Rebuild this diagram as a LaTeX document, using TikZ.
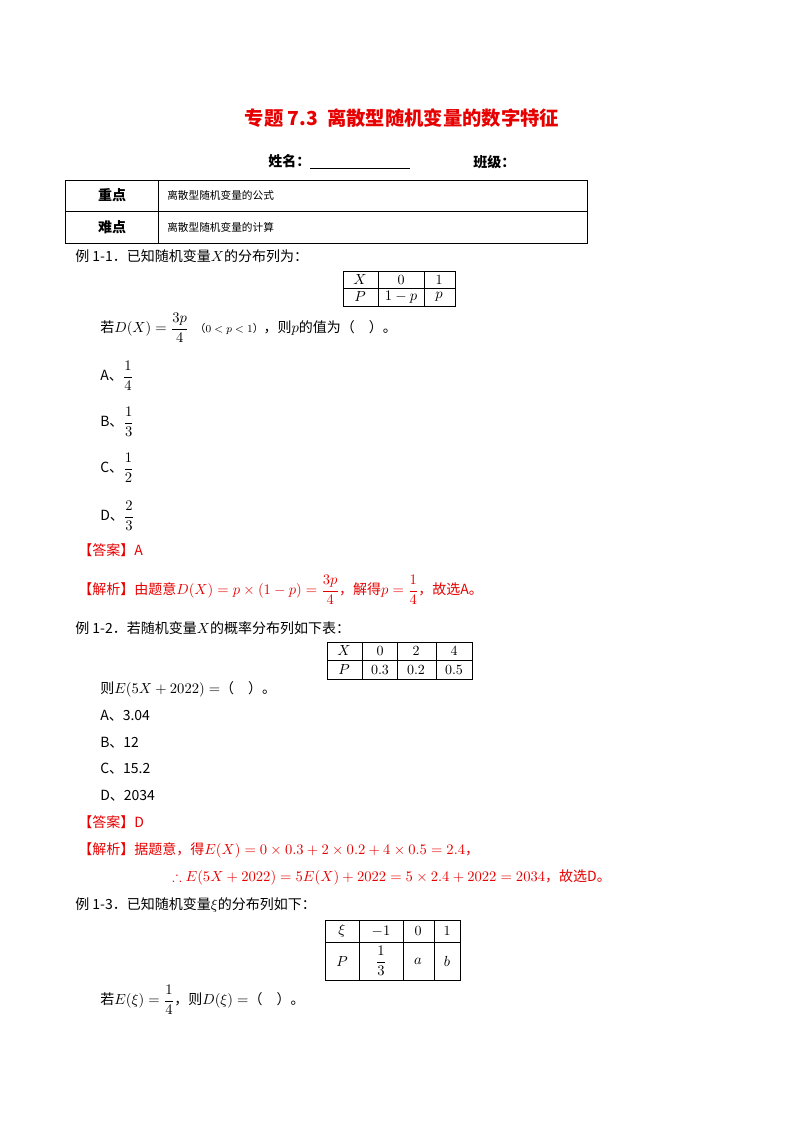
\documentclass[tikz,border=0pt]{standalone}
\usepackage{amsmath,amssymb}
\usepackage{fontspec}
\newfontfamily\cjk{Noto Sans CJK SC}
\definecolor{myred}{RGB}{230,0,0}
\tikzset{
 t/.style={anchor=west,inner sep=0pt,font=\cjk\fontsize{10.5}{12}\selectfont},
 rt/.style={t,text=myred},
 c/.style={inner sep=0pt,font=\fontsize{10.5}{12}\selectfont},
 ln/.style={line width=0.6pt}
}
\begin{document}
\begin{tikzpicture}[x=0.75pt,y=-0.75pt]
\useasboundingbox (0,0) rectangle (800,1132);
\node[inner sep=0pt,text=myred,font=\cjk\bfseries\fontsize{14.5}{18}\selectfont] (title) at (402,118) {专题 7.3\ \ 离散型随机变量的数字特征};
\node[t,font=\cjk\bfseries\fontsize{10.5}{12}\selectfont] (name) at (268,162) {姓名：\underline{\hspace{75pt}}};
\node[t,font=\cjk\bfseries\fontsize{10.5}{12}\selectfont] (cls) at (473,162) {班级：};
% table 1
\draw[ln] (65,180) rectangle (587,243);
\draw[ln] (65,211) -- (587,211);
\draw[ln] (158,180) -- (158,243);
\node[c,font=\cjk\bfseries\fontsize{10.5}{12}\selectfont] (k1) at (112,195) {重点};
\node[c,font=\cjk\bfseries\fontsize{10.5}{12}\selectfont] (k2) at (112,227) {难点};
\node[t,font=\cjk\fontsize{8}{10}\selectfont] (v1) at (167,195) {离散型随机变量的公式};
\node[t,font=\cjk\fontsize{8}{10}\selectfont] (v2) at (167,227) {离散型随机变量的计算};
% ex 1-1
\node[t] (e11) at (75,256) {例 1-1．已知随机变量$X$的分布列为：};
\draw[ln] (343,271) rectangle (455,306);
\draw[ln] (343,288) -- (455,288);
\draw[ln] (378,271) -- (378,306);
\draw[ln] (424,271) -- (424,306);
\node[c] at (360,280) {$X$};
\node[c] at (401,280) {0};
\node[c] at (439,280) {1};
\node[c] at (360,297) {$P$};
\node[c] at (401,297) {$1-p$};
\node[c] at (439,297) {$p$};
\node[t] (q1) at (100,328) {若$D(X)=\dfrac{3p}{4}$ \ {\fontsize{8}{10}\selectfont （$0<p<1$）}，则$p$的值为（\quad）。};
\node[t] (a1) at (100,376) {A、$\dfrac{1}{4}$};
\node[t] (b1) at (100,422) {B、$\dfrac{1}{3}$};
\node[t] (c1) at (100,468) {C、$\dfrac{1}{2}$};
\node[t] (d1) at (100,516) {D、$\dfrac{2}{3}$};
\node[rt] (ans1) at (78,550) {【答案】A};
\node[rt] (sol1) at (78,590) {【解析】由题意$D(X)=p\times(1-p)=\dfrac{3p}{4}$，解得$p=\dfrac{1}{4}$，故选A。};
% ex 1-2
\node[t] (e12) at (75,628) {例 1-2．若随机变量$X$的概率分布列如下表：};
\draw[ln] (327,642) rectangle (472,679);
\draw[ln] (327,660) -- (472,660);
\foreach \xx in {362,397,436} \draw[ln] (\xx,642) -- (\xx,679);
\node[c] at (344,651) {$X$};
\node[c] at (380,651) {0};
\node[c] at (416,651) {2};
\node[c] at (454,651) {4};
\node[c] at (344,670) {$P$};
\node[c] at (380,670) {0.3};
\node[c] at (416,670) {0.2};
\node[c] at (454,670) {0.5};
\node[t] (q2) at (100,689) {则$E(5X+2022)=$（\quad）。};
\node[t] (a2) at (100,716) {A、3.04};
\node[t] (b2) at (100,743) {B、12};
\node[t] (c2) at (100,769) {C、15.2};
\node[t] (d2) at (100,796) {D、2034};
\node[rt] (ans2) at (78,822) {【答案】D};
\node[rt] (sol2) at (78,850) {【解析】据题意，得$E(X)=0\times0.3+2\times0.2+4\times0.5=2.4$，};
\node[rt] (sol2b) at (172,877) {$\therefore E(5X+2022)=5E(X)+2022=5\times2.4+2022=2034$，故选D。};
% ex 1-3
\node[t] (e13) at (75,905) {例 1-3．已知随机变量$\xi$的分布列如下：};
\draw[ln] (325,920) rectangle (460,980);
\draw[ln] (325,942) -- (460,942);
\foreach \xx in {359,403,434} \draw[ln] (\xx,920) -- (\xx,980);
\node[c] at (342,931) {$\xi$};
\node[c] at (381,931) {$-1$};
\node[c] at (418,931) {0};
\node[c] at (447,931) {1};
\node[c] at (342,961) {$P$};
\node[c] at (381,961) {$\dfrac{1}{3}$};
\node[c] at (418,961) {$a$};
\node[c] at (447,961) {$b$};
\node[t] (q3) at (100,1000) {若$E(\xi)=\dfrac{1}{4}$，则$D(\xi)=$（\quad）。};
\end{tikzpicture}
\end{document}
